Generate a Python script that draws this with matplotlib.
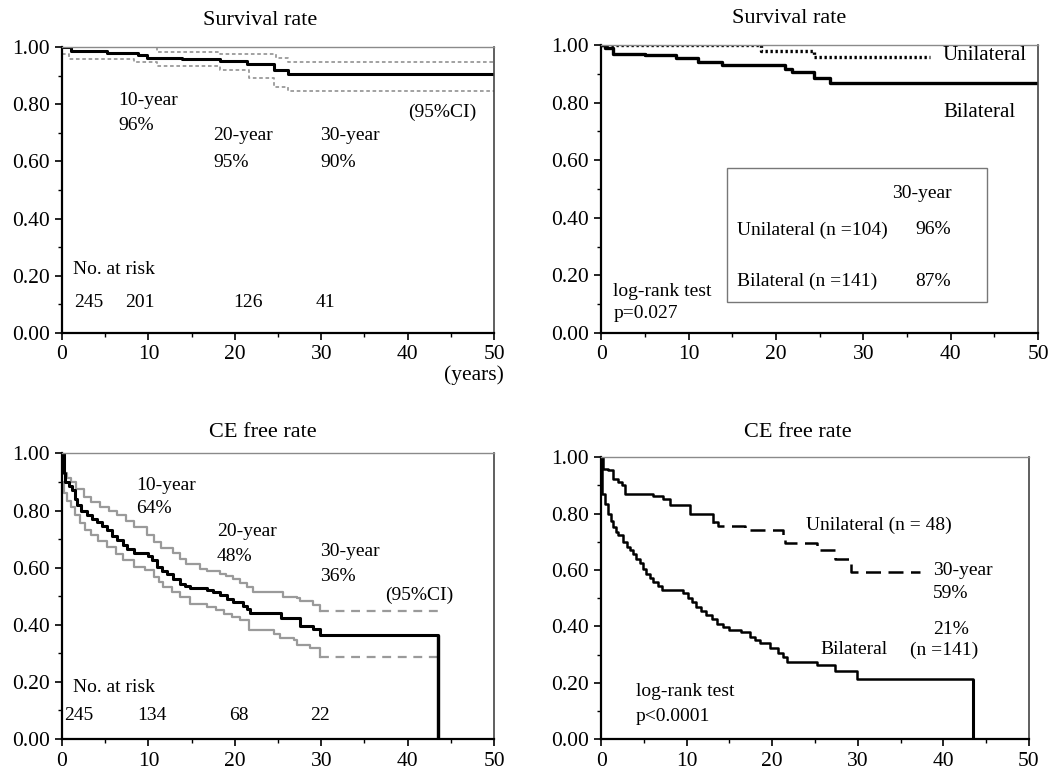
import matplotlib

matplotlib.use("Agg")
import matplotlib.pyplot as plt
from matplotlib.patches import Rectangle
from matplotlib.ticker import MultipleLocator, FormatStrFormatter

plt.rcParams["font.family"] = ["Liberation Serif", "DejaVu Serif"]

# overall survival with 95% CI
os_t = [0, 1.0, 5.2, 8.8, 9.8, 13.9, 18.3, 21.4, 24.5, 26.2, 50]
os_s = [1.0, 0.985, 0.978, 0.972, 0.962, 0.958, 0.952, 0.940, 0.921, 0.904, 0.904]
os_up_t = [0, 11.0, 18.3, 24.8, 26.2, 50]
os_up_s = [1.0, 0.982, 0.976, 0.960, 0.948, 0.948]
os_lo_t = [0, 0.8, 8.3, 11.0, 18.3, 21.6, 24.5, 26.2, 50]
os_lo_s = [0.977, 0.959, 0.948, 0.932, 0.918, 0.893, 0.860, 0.846, 0.846]

# survival by side
uni_t = [0, 18.3, 24.3, 37.6]
uni_s = [1.0, 0.979, 0.958, 0.958]
bil_t = [0, 0.4, 1.4, 5.0, 8.6, 11.1, 13.8, 21.0, 21.8, 24.4, 26.2, 50]
bil_s = [1.0, 0.99, 0.970, 0.964, 0.955, 0.940, 0.932, 0.918, 0.905, 0.887, 0.868, 0.868]

# CE free rate with 95% CI
ce_t = [0, 0.2, 0.4, 0.8, 1.2, 1.5, 1.7, 2.2, 2.9, 3.5, 4.0, 4.6, 5.2, 5.8, 6.4, 7.0,
        7.5, 8.3, 9.9, 10.4, 11.0, 11.6, 12.1, 12.9, 13.7, 14.2, 14.8, 16.8, 17.5,
        18.3, 19.1, 19.8, 21.0, 21.4, 21.8, 25.4, 27.5, 29.1, 29.9, 43.5]
ce_s = [1.0, 0.930, 0.900, 0.885, 0.871, 0.840, 0.819, 0.800, 0.784, 0.770, 0.760,
        0.745, 0.731, 0.712, 0.696, 0.680, 0.667, 0.653, 0.640, 0.626, 0.603, 0.590,
        0.579, 0.560, 0.544, 0.535, 0.529, 0.522, 0.515, 0.505, 0.492, 0.480, 0.465,
        0.455, 0.442, 0.422, 0.395, 0.385, 0.364, 0.0]
ce_up_t = [0, 0.2, 0.6, 1.0, 1.6, 2.5, 3.4, 4.4, 5.4, 6.4, 7.4, 8.3, 9.8, 10.6, 11.5,
           12.9, 13.6, 14.4, 16.0, 16.8, 18.3, 19.0, 19.8, 20.6, 21.4, 22.1, 25.6,
           27.2, 27.5, 29.1, 29.9, 43.5]
ce_up_s = [0.960, 0.930, 0.915, 0.900, 0.875, 0.848, 0.830, 0.813, 0.800, 0.784, 0.765,
           0.743, 0.714, 0.690, 0.670, 0.650, 0.630, 0.614, 0.597, 0.590, 0.579, 0.570,
           0.562, 0.548, 0.533, 0.515, 0.498, 0.495, 0.484, 0.468, 0.449, 0.449]
ce_lo_t = [0, 0.2, 0.6, 1.0, 1.5, 2.1, 2.7, 3.3, 4.2, 5.2, 6.2, 7.1, 8.3, 9.6, 10.6,
           11.2, 11.7, 12.7, 13.7, 14.8, 16.8, 17.8, 18.7, 19.7, 20.6, 21.6, 24.5,
           25.2, 26.8, 27.2, 28.7, 29.9, 43.5]
ce_lo_s = [0.900, 0.860, 0.835, 0.813, 0.785, 0.755, 0.733, 0.714, 0.695, 0.673, 0.648,
           0.626, 0.603, 0.591, 0.568, 0.550, 0.533, 0.515, 0.498, 0.474, 0.463, 0.450,
           0.439, 0.428, 0.416, 0.381, 0.369, 0.352, 0.348, 0.328, 0.317, 0.287, 0.287]

# CE free rate by side
ce_uni_t = [0, 0.23, 0.82, 1.4, 2.0, 2.4, 2.8, 6.1, 7.2, 8.0, 10.4, 13.1, 13.7,
            16.8, 21.3, 21.5, 25.2, 27.3, 29.2, 37.3]
ce_uni_s = [1.0, 0.959, 0.953, 0.923, 0.912, 0.900, 0.870, 0.861, 0.853, 0.831, 0.800,
            0.770, 0.755, 0.743, 0.711, 0.696, 0.672, 0.640, 0.593, 0.593]
ce_bil_t = [0, 0.08, 0.43, 0.82, 1.1, 1.4, 1.7, 2.0, 2.5, 3.0, 3.4, 3.7, 4.1, 4.5, 4.9,
            5.3, 5.7, 6.1, 6.6, 7.1, 9.6, 10.2, 10.6, 11.1, 11.7, 12.3, 12.9, 13.5,
            14.2, 15.0, 16.4, 17.4, 18.0, 18.6, 19.7, 20.7, 21.2, 21.7, 25.2, 27.3,
            29.9, 43.5]
ce_bil_s = [1.0, 0.870, 0.835, 0.800, 0.775, 0.752, 0.735, 0.723, 0.700, 0.682, 0.670,
            0.658, 0.640, 0.623, 0.605, 0.587, 0.572, 0.558, 0.543, 0.528, 0.520, 0.499,
            0.485, 0.469, 0.455, 0.440, 0.425, 0.410, 0.398, 0.387, 0.380, 0.363, 0.352,
            0.340, 0.322, 0.304, 0.290, 0.275, 0.263, 0.240, 0.214, 0.0]

FS = 14
TFS = 15.5
GREY = "#9a9a9a"


def style_axes(ax):
    ax.set_xlim(0, 50)
    ax.set_ylim(0, 1.0)
    ax.xaxis.set_major_locator(MultipleLocator(10))
    ax.xaxis.set_minor_locator(MultipleLocator(5))
    ax.yaxis.set_major_locator(MultipleLocator(0.2))
    ax.yaxis.set_minor_locator(MultipleLocator(0.1))
    ax.yaxis.set_major_formatter(FormatStrFormatter("%.2f"))
    ax.tick_params(which="major", direction="out", length=5, width=1.2, labelsize=TFS, pad=4)
    ax.tick_params(which="minor", direction="out", length=3, width=1.0)
    ax.spines["left"].set_linewidth(1.6)
    ax.spines["bottom"].set_linewidth(1.6)
    ax.spines["top"].set_color("#8a8a8a")
    ax.spines["right"].set_color("#444444")
    ax.spines["top"].set_linewidth(1.0)
    ax.spines["right"].set_linewidth(1.2)


fig = plt.figure(figsize=(10.64, 7.72), dpi=100)
ax1 = fig.add_axes([0.0583, 0.5687, 0.406, 0.3705])
ax2 = fig.add_axes([0.565, 0.5687, 0.4107, 0.373])
ax3 = fig.add_axes([0.0583, 0.0427, 0.406, 0.370])
ax4 = fig.add_axes([0.565, 0.0427, 0.402, 0.365])
for ax in (ax1, ax2, ax3, ax4):
    style_axes(ax)

# top left: overall survival
ax1.step(os_up_t, os_up_s, where="post", color=GREY, lw=1.3, ls=(0, (2, 1.5)))
ax1.step(os_lo_t, os_lo_s, where="post", color=GREY, lw=1.3, ls=(0, (2, 1.5)))
ax1.step(os_t, os_s, where="post", color="black", lw=2.2)
ax1.text(6.5, 0.813, "10-year", fontsize=FS, va="center")
ax1.text(6.5, 0.726, "96%", fontsize=FS, va="center")
ax1.text(17.5, 0.690, "20-year", fontsize=FS, va="center")
ax1.text(17.5, 0.597, "95%", fontsize=FS, va="center")
ax1.text(29.9, 0.690, "30-year", fontsize=FS, va="center")
ax1.text(29.9, 0.597, "90%", fontsize=FS, va="center")
ax1.text(40.1, 0.772, "(95%CI)", fontsize=FS, va="center")
ax1.text(1.3, 0.222, "No. at risk", fontsize=FS, va="center")
for x, n in zip([1.35, 7.3, 19.8, 29.3], ["245", "201", "126", "41"]):
    ax1.text(x, 0.107, n, fontsize=FS, va="center")

# top right: survival by side
ax2.step(uni_t, uni_s, where="post", color="black", lw=2.4, ls=(0, (0.7, 0.8)))
ax2.step(bil_t, bil_s, where="post", color="black", lw=2.4)
ax2.text(39.1, 0.965, "Unilateral", fontsize=FS + 1, va="center")
ax2.text(39.1, 0.764, "Bilateral", fontsize=FS + 1, va="center")
ax2.add_patch(Rectangle((14.4, 0.108), 29.7, 0.465, fill=False, edgecolor="#777777", lw=1.0))
ax2.text(33.3, 0.486, "30-year", fontsize=FS, va="center")
ax2.text(15.6, 0.358, "Unilateral (n =104)", fontsize=FS, va="center")
ax2.text(35.9, 0.358, "96%", fontsize=FS, va="center")
ax2.text(15.6, 0.179, "Bilateral (n =141)", fontsize=FS, va="center")
ax2.text(35.9, 0.179, "87%", fontsize=FS, va="center")
ax2.text(1.4, 0.145, "log-rank test", fontsize=FS, va="center")
ax2.text(1.4, 0.066, "p=0.027", fontsize=FS, va="center")

# bottom left: CE free rate, CI dashed after the last event
k = len(ce_up_t) - 2
ax3.step(ce_up_t[:k + 1], ce_up_s[:k + 1], where="post", color=GREY, lw=1.6)
ax3.plot(ce_up_t[k:], ce_up_s[k:], color=GREY, lw=1.6, ls=(0, (4, 3)))
k = len(ce_lo_t) - 2
ax3.step(ce_lo_t[:k + 1], ce_lo_s[:k + 1], where="post", color=GREY, lw=1.6)
ax3.plot(ce_lo_t[k:], ce_lo_s[k:], color=GREY, lw=1.6, ls=(0, (4, 3)))
ax3.step(ce_t, ce_s, where="post", color="black", lw=2.2)
ax3.vlines(ce_t[-1], 0, ce_s[-2], color="black", lw=2.4)
ax3.text(8.6, 0.889, "10-year", fontsize=FS, va="center")
ax3.text(8.6, 0.808, "64%", fontsize=FS, va="center")
ax3.text(17.9, 0.725, "20-year", fontsize=FS, va="center")
ax3.text(17.9, 0.638, "48%", fontsize=FS, va="center")
ax3.text(29.9, 0.655, "30-year", fontsize=FS, va="center")
ax3.text(29.9, 0.568, "36%", fontsize=FS, va="center")
ax3.text(37.4, 0.503, "(95%CI)", fontsize=FS, va="center")
ax3.text(1.3, 0.182, "No. at risk", fontsize=FS, va="center")
for x, n in zip([0.27, 8.7, 19.3, 28.7], ["245", "134", "68", "22"]):
    ax3.text(x, 0.083, n, fontsize=FS, va="center")

# bottom right: CE free rate by side
k = 11
ax4.step(ce_uni_t[:k + 1], ce_uni_s[:k + 1], where="post", color="black", lw=1.8)
ax4.step(ce_uni_t[k:], ce_uni_s[k:], where="post", color="black", lw=1.8, ls=(0, (6, 3)))
ax4.step(ce_bil_t, ce_bil_s, where="post", color="black", lw=1.8)
ax4.vlines(ce_bil_t[-1], 0, ce_bil_s[-2], color="black", lw=2.2)
ax4.text(23.9, 0.758, "Unilateral (n = 48)", fontsize=FS, va="center")
ax4.text(38.8, 0.599, "30-year", fontsize=FS, va="center")
ax4.text(38.8, 0.517, "59%", fontsize=FS, va="center")
ax4.text(38.8, 0.387, "21%", fontsize=FS, va="center")
ax4.text(25.6, 0.316, "Bilateral", fontsize=FS, va="center")
ax4.text(36.1, 0.316, "(n =141)", fontsize=FS, va="center")
ax4.text(4.05, 0.169, "log-rank test", fontsize=FS, va="center")
ax4.text(4.05, 0.080, "p<0.0001", fontsize=FS, va="center")

fig.text(0.2444, 0.973, "Survival rate", fontsize=16, ha="center", va="center")
fig.text(0.7416, 0.976, "Survival rate", fontsize=16, ha="center", va="center")
fig.text(0.247, 0.4395, "CE free rate", fontsize=16, ha="center", va="center")
fig.text(0.7495, 0.4395, "CE free rate", fontsize=16, ha="center", va="center")
fig.text(0.4455, 0.514, "(years)", fontsize=TFS, ha="center", va="center")

fig.savefig("out.png", dpi=100)
